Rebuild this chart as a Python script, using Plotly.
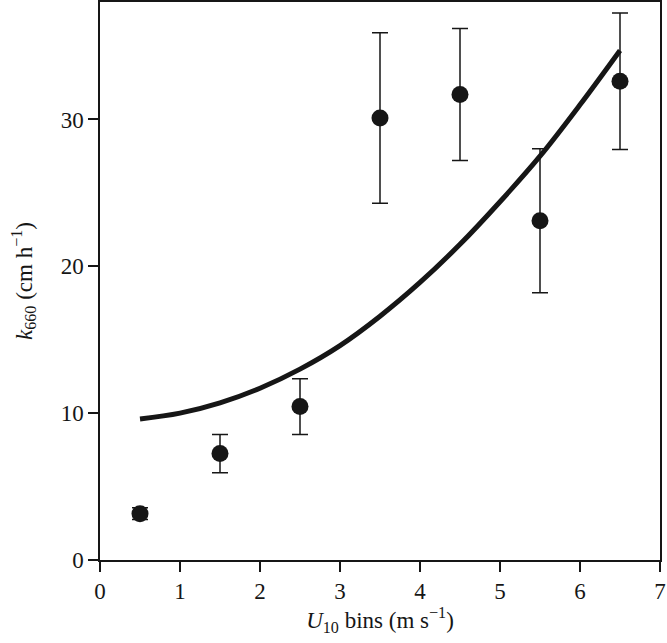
import plotly.graph_objects as go

# Measured bins
u_bins = [0.5, 1.5, 2.5, 3.5, 4.5, 5.5, 6.5]
k660 = [3.15, 7.25, 10.45, 30.1, 31.7, 23.1, 32.6]
k660_err = [0.4, 1.3, 1.9, 5.8, 4.5, 4.9, 4.65]

# Fitted curve
fit_u = [0.5, 1.0, 1.5, 2.0, 2.5, 3.0, 3.5, 4.0, 4.5, 5.0, 5.5, 6.0, 6.5]
fit_k = [9.6, 10.0, 10.7, 11.7, 13.0, 14.6, 16.6, 18.9, 21.5, 24.4, 27.5, 31.0, 34.7]

x_ticks = [0, 1, 2, 3, 4, 5, 6, 7]
y_ticks = [0, 10, 20, 30]

ink = "#161616"
font_family = "Liberation Serif"

fig = go.Figure()

fig.add_trace(go.Scatter(
    x=fit_u, y=fit_k, mode="lines",
    line=dict(color=ink, width=5, shape="spline"),
    showlegend=False, hoverinfo="skip",
))

fig.add_trace(go.Scatter(
    x=u_bins, y=k660, mode="markers",
    marker=dict(color=ink, size=17, line=dict(width=0)),
    error_y=dict(type="data", array=k660_err, visible=True,
                 color=ink, thickness=1.5, width=8),
    showlegend=False,
))

axis_common = dict(
    showgrid=False, zeroline=False,
    showline=True, linecolor=ink, linewidth=1.5, mirror=True,
    ticks="outside", ticklen=10, tickwidth=1.5, tickcolor=ink,
    tickfont=dict(family=font_family, size=23, color=ink),
)

fig.update_layout(
    width=667, height=643,
    margin=dict(l=100, r=7, t=2, b=83, autoexpand=False),
    paper_bgcolor="white", plot_bgcolor="white",
    font=dict(family=font_family, size=23, color=ink),
    xaxis=dict(range=[0, 7], tickvals=x_ticks,
               title=dict(text="<i>U</i><sub>10</sub> bins (m s<sup>−1</sup>)",
                          font=dict(family=font_family, size=23, color=ink),
                          standoff=6),
               **axis_common),
    yaxis=dict(range=[0, 38], tickvals=y_ticks,
               title=dict(text="<i>k</i><sub>660</sub> (cm h<sup>−1</sup>)",
                          font=dict(family=font_family, size=23, color=ink),
                          standoff=22),
               **axis_common),
)

fig.write_html("out.html",
               config={"displayModeBar": False},
               post_script="document.body.style.margin='0';document.body.style.overflow='hidden';")
